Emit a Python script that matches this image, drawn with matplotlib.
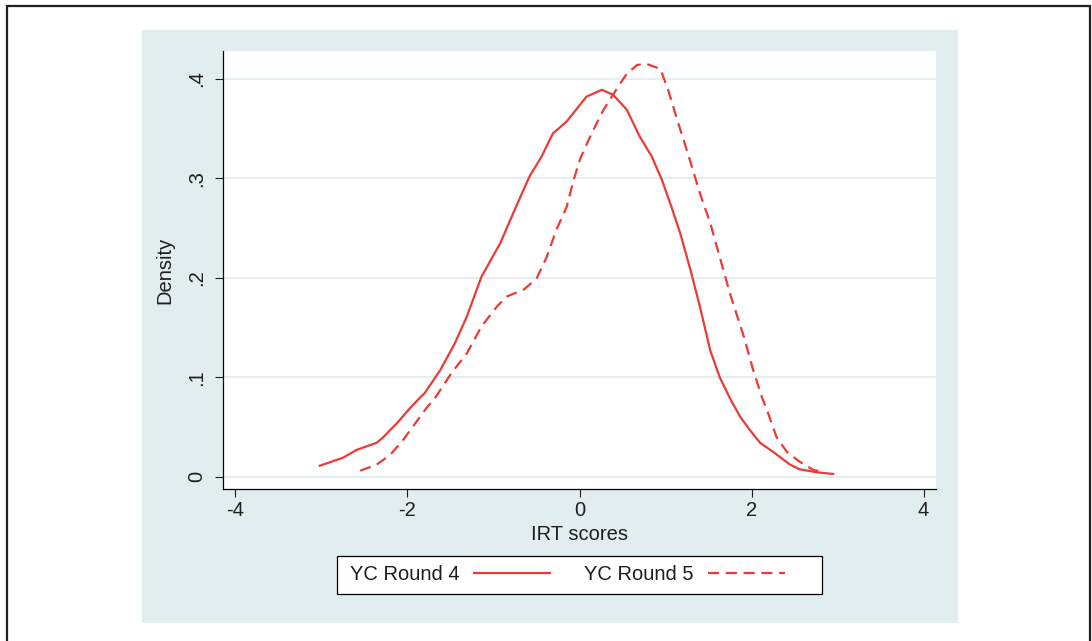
import matplotlib
matplotlib.use("Agg")
import matplotlib.pyplot as plt
from matplotlib.patches import Rectangle
from matplotlib.lines import Line2D

plt.rcParams['font.family'] = ['Liberation Sans', 'DejaVu Sans']
plt.rcParams['axes.unicode_minus'] = False

# kernel density estimates
r4_x = [-3.02, -2.75, -2.59, -2.36, -2.29, -2.12, -1.97, -1.86, -1.80, -1.62,
        -1.45, -1.31, -1.14, -0.92, -0.73, -0.58, -0.44, -0.31, -0.15, 0.08,
        0.26, 0.39, 0.55, 0.70, 0.84, 0.96, 1.07, 1.17, 1.29, 1.40,
        1.52, 1.63, 1.76, 1.87, 1.98, 2.10, 2.25, 2.45, 2.56, 2.76, 2.95]
r4_y = [0.011, 0.019, 0.027, 0.034, 0.039, 0.054, 0.069, 0.079, 0.084, 0.107,
        0.134, 0.161, 0.201, 0.235, 0.273, 0.302, 0.322, 0.345, 0.357, 0.382,
        0.389, 0.384, 0.369, 0.342, 0.322, 0.298, 0.271, 0.245, 0.208, 0.171,
        0.127, 0.100, 0.077, 0.060, 0.047, 0.034, 0.025, 0.012, 0.0074, 0.0044, 0.0027]

r5_x = [-2.55, -2.36, -2.20, -2.05, -1.94, -1.78, -1.68, -1.49, -1.31, -1.14,
        -0.96, -0.85, -0.65, -0.50, -0.38, -0.27, -0.15, -0.07, 0.01, 0.14,
        0.28, 0.47, 0.55, 0.67, 0.78, 0.94, 1.03, 1.15, 1.27, 1.40,
        1.52, 1.63, 1.75, 1.91, 2.02, 2.12, 2.18, 2.29, 2.41, 2.56, 2.72, 2.82]
r5_y = [0.006, 0.012, 0.022, 0.037, 0.050, 0.069, 0.079, 0.104, 0.124, 0.151,
        0.171, 0.181, 0.188, 0.199, 0.221, 0.248, 0.271, 0.298, 0.320, 0.345,
        0.369, 0.395, 0.405, 0.414, 0.415, 0.410, 0.389, 0.355, 0.322, 0.285,
        0.255, 0.221, 0.184, 0.141, 0.107, 0.080, 0.067, 0.040, 0.025, 0.015, 0.0067, 0.005]

x_ticks = [-4, -2, 0, 2, 4]
y_ticks = [0, 0.1, 0.2, 0.3, 0.4]
y_tick_labels = ['0', '.1', '.2', '.3', '.4']
series_labels = ['YC Round 4', 'YC Round 5']

red = '#EC3A36'
bg = '#E2EDF0'
grid_c = '#DFEBEE'
txt = '#1e1e1e'
fs = 14.5
dash = (0, (5.0, 3.0))

W, H = 1092, 641
fig = plt.figure(figsize=(W / 100, H / 100), dpi=100)
fig.patch.set_facecolor('white')

# graph region, outer frame and legend box
fig.patches.append(Rectangle((142 / W, 1 - 623 / H), 816 / W, 593 / H,
                             transform=fig.transFigure, facecolor=bg,
                             edgecolor='none', zorder=0))
fig.patches.append(Rectangle((7 / W, -0.05), 1083 / W, 1.05 - 6 / H,
                             transform=fig.transFigure, fill=False,
                             edgecolor='#231f20', lw=1.6, zorder=1))
fig.patches.append(Rectangle((337 / W, 1 - 594 / H), 485 / W, 38 / H,
                             transform=fig.transFigure, facecolor='white',
                             edgecolor='black', lw=0.9, zorder=1))

ax = fig.add_axes([223 / W, 1 - 489 / H, 713 / W, 438 / H])
ax.set_zorder(3)
ax.set_facecolor('white')

ax.plot(r4_x, r4_y, color=red, lw=1.6, solid_joinstyle='round')
ax.plot(r5_x, r5_y, color=red, lw=1.6, linestyle=dash)

ax.set_xlim(-4.145, 4.145)
ax.set_ylim(-0.0124, 0.428)
ax.set_xticks(x_ticks)
ax.set_xticklabels([str(v) for v in x_ticks])
ax.set_yticks(y_ticks)
ax.set_yticklabels(y_tick_labels, rotation=90, va='center')
ax.tick_params(axis='both', length=6, width=0.8, color=txt, labelcolor=txt,
               labelsize=fs)
ax.tick_params(axis='x', pad=3)
ax.tick_params(axis='y', pad=6)
ax.grid(axis='y', color=grid_c, lw=1.2)
ax.set_axisbelow(True)
for s in ['top', 'right']:
    ax.spines[s].set_visible(False)
for s in ['left', 'bottom']:
    ax.spines[s].set_linewidth(0.9)
    ax.spines[s].set_color('black')

ax.set_xlabel('IRT scores', fontsize=fs, color=txt)
ax.set_ylabel('Density', fontsize=fs, color=txt)
ax.xaxis.label.set_va('center')
ax.yaxis.label.set_va('center')
ax.xaxis.set_label_coords(0.5, -0.103)
ax.yaxis.set_label_coords(-0.082, 0.5)

handles = [Line2D([], [], color=red, lw=1.6),
           Line2D([], [], color=red, lw=1.6, linestyle=dash)]
leg = fig.legend(handles, series_labels, loc='center left',
                 bbox_to_anchor=(350 / W, 1 - 575 / H), ncol=2,
                 markerfirst=False, frameon=False, fontsize=fs,
                 handlelength=3.8, handletextpad=0.7, columnspacing=1.7,
                 borderpad=0, borderaxespad=0)
leg.set_zorder(4)
for t in leg.get_texts():
    t.set_color(txt)

fig.savefig('out.png', dpi=100)
